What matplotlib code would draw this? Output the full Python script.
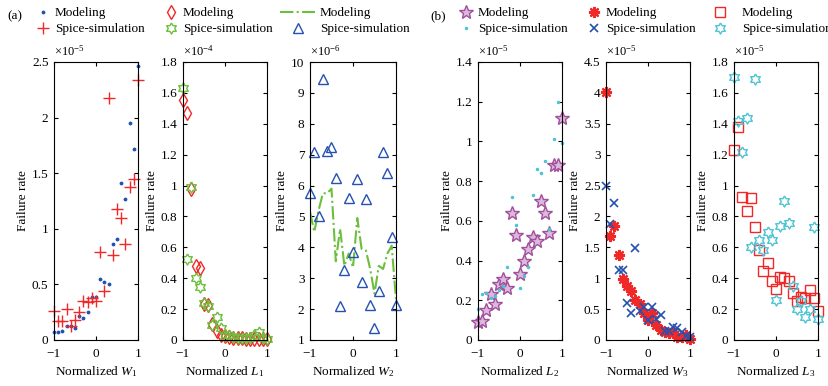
import numpy as np
import matplotlib
matplotlib.use('Agg')
import matplotlib.pyplot as plt
from matplotlib.ticker import FuncFormatter, MultipleLocator

plt.rcParams['font.family'] = ['Liberation Serif', 'DejaVu Serif']
plt.rcParams['mathtext.fontset'] = 'custom'
plt.rcParams['mathtext.rm'] = 'Liberation Serif'
plt.rcParams['mathtext.it'] = 'Liberation Serif:italic'
plt.rcParams['font.size'] = 9.5
plt.rcParams['axes.unicode_minus'] = True

# normalized parameter values
x = [-1.0, -0.9, -0.8, -0.7, -0.6, -0.5, -0.4, -0.3, -0.2, -0.1, 0.0,
     0.1, 0.2, 0.3, 0.4, 0.5, 0.6, 0.7, 0.8, 0.9, 1.0]

# failure rates (W1, W3, L2, L3 in 1e-5, L1 in 1e-4, W2 in 1e-6)
w1_model = [0.07, 0.075, 0.085, 0.13, 0.13, 0.11, 0.22, 0.20, 0.25, 0.39, 0.39,
            0.55, 0.52, 0.50, 0.86, 0.91, 1.41, 1.265, 1.95, 1.72, 2.46]
w1_spice = [0.26, 0.17, 0.17, 0.28, 0.13, 0.18, 0.25, 0.35, 0.34, 0.38, 0.35,
            0.79, 0.44, 2.18, 0.765, 1.175, 1.095, 0.86, 1.375, 1.45, 2.34]

l1_model = [1.557, 1.467, 0.975, 0.48, 0.465, 0.235, 0.225, 0.105, 0.06, 0.035, 0.025,
            0.02, 0.015, 0.01, 0.01, 0.008, 0.008, 0.008, 0.008, 0.008, 0.005]
l1_spice = [1.63, 0.525, 0.99, 0.40, 0.34, 0.24, 0.22, 0.10, 0.15, 0.08, 0.025,
            0.035, 0.02, 0.015, 0.015, 0.01, 0.015, 0.035, 0.05, 0.01, 0.005]

w2_model = [5.15, 4.5, 5.2, 5.75, 5.75, 5.9, 3.55, 4.6, 3.4, 3.8, 3.35,
            4.95, 3.95, 3.9, 3.3, 2.5, 3.4, 3.3, 3.8, 4.05, 2.3]
w2_spice = [5.76, 7.09, 5.0, 9.45, 7.13, 7.26, 6.24, 2.1, 3.27, 5.6, 3.85,
            6.2, 2.88, 5.55, 2.12, 1.4, 2.6, 7.1, 6.4, 4.33, 2.12]

l2_model = [0.09, 0.095, 0.15, 0.23, 0.18, 0.28, 0.305, 0.26, 0.64, 0.53, 0.33,
            0.40, 0.46, 0.52, 0.50, 0.70, 0.64, 0.54, 0.88, 0.88, 1.12]
l2_spice = [0.155, 0.23, 0.235, 0.21, 0.22, 0.25, 0.27, 0.37, 0.72, 0.58, 0.26,
            0.32, 0.37, 0.73, 0.86, 0.84, 0.90, 0.56, 1.01, 1.20, 0.99]

w3_model = [4.01, 1.69, 1.85, 1.38, 0.99, 0.88, 0.80, 0.65, 0.58, 0.44, 0.33,
            0.44, 0.25, 0.16, 0.13, 0.11, 0.13, 0.05, 0.05, 0.08, 0.02]
w3_spice = [2.49, 1.88, 2.22, 1.14, 1.14, 0.60, 0.43, 1.49, 0.47, 0.54, 0.33,
            0.54, 0.34, 0.40, 0.14, 0.14, 0.21, 0.19, 0.13, 0.07, 0.05]

l3_model = [1.23, 1.38, 0.925, 0.835, 0.92, 0.73, 0.58, 0.45, 0.50, 0.385, 0.33,
            0.41, 0.40, 0.38, 0.305, 0.25, 0.28, 0.27, 0.325, 0.275, 0.19]
l3_spice = [1.70, 1.42, 1.22, 1.44, 0.60, 1.69, 0.65, 0.58, 0.70, 0.65, 0.26,
            0.74, 0.90, 0.76, 0.35, 0.20, 0.25, 0.15, 0.20, 0.73, 0.135]

# hexagram marker (matlab 'h' style)
ang = np.deg2rad(90 + 30 * np.arange(13))
rad = np.where(np.arange(13) % 2 == 0, 1.0, 0.577)
hexagram = np.column_stack([rad * np.cos(ang), rad * np.sin(ang)])

RED = '#f02828'
BLUE = '#2452b0'
GREEN = '#6cbf3c'
CYAN = '#4cc4d4'
PURPLE = '#a0509c'

W, H = 829, 386
FS = 9.5
fig = plt.figure(figsize=(W / 100, H / 100), dpi=100)


def make_axes(left, right, top=62, bottom=340):
    return fig.add_axes([left / W, 1 - bottom / H, (right - left) / W, (bottom - top) / H])


def style(ax, ymin, ymax, ystep, exp, xlabel):
    ax.set_xlim(-1, 1)
    ax.set_ylim(ymin, ymax)
    ax.set_xticks([-1, 0, 1])
    ax.yaxis.set_major_locator(MultipleLocator(ystep))
    ax.xaxis.set_major_formatter(FuncFormatter(lambda v, p: f'{v:g}'.replace('-', '\u2212')))
    ax.yaxis.set_major_formatter(FuncFormatter(lambda v, p: f'{round(v, 3):g}'))
    ax.tick_params(direction='in', top=True, right=True, length=3, width=0.8)
    ax.tick_params(axis='x', pad=6)
    ax.tick_params(axis='y', pad=4)
    for s in ax.spines.values():
        s.set_linewidth(0.8)
    ax.set_ylabel('Failure rate', labelpad=2)
    ax.set_xlabel(xlabel, labelpad=3)
    ax.text(0.0, 1.012, r'$\times10^{%d}$' % exp, transform=ax.transAxes,
            ha='left', va='bottom', fontsize=9)


def legend_at(ax, text_x, hl):
    fs = FS * 100 / 72
    pad = 0.4
    left = text_x - pad * fs - hl * fs
    ax.legend(loc='upper left', bbox_to_anchor=(left / W, 1 - 7 / H),
              bbox_transform=fig.transFigure, frameon=False, borderpad=0,
              borderaxespad=0, handlelength=hl, handletextpad=pad,
              labelspacing=0.3, fontsize=FS)


# (a) W1
ax1 = make_axes(54, 138)
ax1.plot(x, w1_model, '.', color=BLUE, ms=3.5, label='Modeling', clip_on=False)
ax1.plot(x, w1_spice, '+', color=RED, ms=8, mew=1.0, label='Spice-simulation', clip_on=False)
style(ax1, 0, 2.5, 0.5, -5, r'Normalized $W_1$')
legend_at(ax1, 55, 1.0)

# (a) L1
ax2 = make_axes(183, 267)
ax2.plot(x, l1_model, 'd', color=RED, mfc='none', ms=7, mew=1.0, label='Modeling', clip_on=False)
ax2.plot(x, l1_spice, marker=hexagram, ls='none', color=GREEN, mfc='none', ms=8, mew=1.0,
         label='Spice-simulation', clip_on=False)
style(ax2, 0, 1.8, 0.2, -4, r'Normalized $L_1$')
legend_at(ax2, 183, 1.0)

# (a) W2
ax3 = make_axes(310, 396)
ax3.plot(x, w2_model, '-.', color=GREEN, lw=1.5, label='Modeling')
ax3.plot(x, w2_spice, '^', color=BLUE, mfc='none', ms=7, mew=1.0, label='Spice-simulation', clip_on=False)
style(ax3, 1, 10, 1, -6, r'Normalized $W_2$')
legend_at(ax3, 320, 2.6)

# (b) L2
ax4 = make_axes(478, 562)
ax4.plot(x, l2_model, '*', color=PURPLE, mfc='#dcb8dc', ms=10, mew=1.0, label='Modeling', clip_on=False)
ax4.plot(x, l2_spice, '.', color=CYAN, ms=3, label='Spice-simulation', clip_on=False)
style(ax4, 0, 1.4, 0.2, -5, r'Normalized $L_2$')
legend_at(ax4, 478, 1.0)

# (b) W3
ax5 = make_axes(606, 690)
ax5.plot(x, w3_model, marker=(8, 2, 0), ls='none', color=RED, ms=8, mew=1.6, label='Modeling', clip_on=False)
ax5.plot(x, w3_spice, 'x', color=BLUE, ms=6, mew=1.2, label='Spice-simulation', clip_on=False)
style(ax5, 0, 4.5, 0.5, -5, r'Normalized $W_3$')
legend_at(ax5, 606, 1.0)

# (b) L3
ax6 = make_axes(734, 818)
ax6.plot(x, l3_model, 's', color=RED, mfc='none', ms=6.5, mew=1.0, label='Modeling', clip_on=False)
ax6.plot(x, l3_spice, marker=hexagram, ls='none', color=CYAN, mfc='none', ms=8, mew=1.0,
         label='Spice-simulation', clip_on=False)
style(ax6, 0, 1.8, 0.2, -5, r'Normalized $L_3$')
legend_at(ax6, 742, 2.6)

fig.text(7 / W, 1 - 16 / H, '(a)', ha='left', va='center', fontsize=FS)
fig.text(430 / W, 1 - 16 / H, '(b)', ha='left', va='center', fontsize=FS)

fig.savefig('out.png', dpi=100)
